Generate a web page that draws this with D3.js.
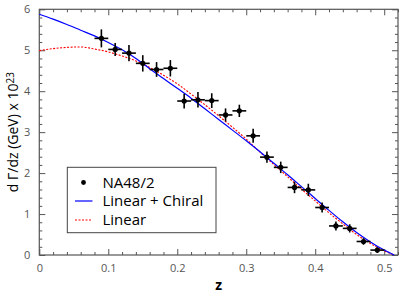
<!DOCTYPE html>
<html>
<head>
<meta charset="utf-8">
<script src="https://cdn.jsdelivr.net/npm/d3@7"></script>
<style>
  html, body { margin: 0; padding: 0; background: #fff; }
  svg { display: block; font-family: "Open Sans", "Noto Sans", sans-serif; }
</style>
</head>
<body>
<svg id="chart" width="409" height="301"></svg>
<script>
// ---- data ----
const dataZ   = [0.09, 0.11, 0.13, 0.15, 0.17, 0.19, 0.21, 0.23, 0.25, 0.27, 0.29, 0.31, 0.33, 0.35, 0.37, 0.39, 0.41, 0.43, 0.45, 0.47, 0.49];
const dataY   = [5.29, 5.02, 4.93, 4.68, 4.53, 4.56, 3.76, 3.79, 3.77, 3.42, 3.52, 2.91, 2.39, 2.14, 1.65, 1.59, 1.16, 0.71, 0.65, 0.33, 0.12];
const dataErr = [0.22, 0.16, 0.20, 0.20, 0.18, 0.20, 0.18, 0.19, 0.18, 0.16, 0.15, 0.17, 0.14, 0.14, 0.14, 0.15, 0.12, 0.11, 0.10, 0.08, 0.07];
const zErr = 0.01;

const curveZ      = [0, 0.02, 0.04, 0.06, 0.08, 0.10, 0.12, 0.14, 0.16, 0.18, 0.20, 0.22, 0.24, 0.26, 0.28, 0.30, 0.32, 0.34, 0.36, 0.38, 0.40, 0.42, 0.44, 0.46, 0.48, 0.50, 0.5145];
const chiralY     = [5.88, 5.76, 5.63, 5.49, 5.35, 5.19, 5.01, 4.80, 4.55, 4.31, 4.07, 3.83, 3.57, 3.31, 3.05, 2.79, 2.52, 2.24, 1.96, 1.67, 1.38, 1.09, 0.81, 0.55, 0.32, 0.12, 0];
const linearY     = [4.99, 5.04, 5.07, 5.08, 5.03, 4.96, 4.86, 4.74, 4.58, 4.39, 4.18, 3.93, 3.67, 3.40, 3.12, 2.83, 2.51, 2.21, 1.91, 1.61, 1.32, 1.03, 0.76, 0.50, 0.28, 0.10, 0];

const xMajor = [0, 0.1, 0.2, 0.3, 0.4, 0.5];
const yMajor = [0, 1, 2, 3, 4, 5, 6];
const legendLabels = ["NA48/2", "Linear + Chiral", "Linear"];

// ---- layout ----
const svg = d3.select("#chart");
const L = 39.3, R = 398, T = 9.3, B = 255;
const x = d3.scaleLinear().domain([0, 0.52]).range([L, R]);
const y = d3.scaleLinear().domain([0, 6]).range([B, T]);

const xMinor = d3.range(0, 0.521, 0.02).filter(v => !xMajor.some(m => Math.abs(m - v) < 1e-6));
const yMinor = d3.range(0, 6.001, 0.2).filter(v => !yMajor.some(m => Math.abs(m - v) < 1e-6));

const frameColor = "#555";

function styleAxis(g) {
  g.select(".domain").remove();
  g.selectAll(".tick line").attr("stroke", frameColor).attr("stroke-width", 1);
  g.selectAll(".tick text").attr("fill", "#555").style("font-size", "11px").style("font-family", "'Open Sans', sans-serif");
}

// bottom
svg.append("g").attr("transform", `translate(0,${B})`)
  .call(d3.axisBottom(x).tickValues(xMajor).tickSize(-6).tickPadding(9).tickFormat(d3.format("")))
  .call(styleAxis);
svg.append("g").attr("transform", `translate(0,${B})`)
  .call(d3.axisBottom(x).tickValues(xMinor).tickSize(-3).tickFormat(""))
  .call(styleAxis);
// top
svg.append("g").attr("transform", `translate(0,${T})`)
  .call(d3.axisTop(x).tickValues(xMajor).tickSize(-6).tickFormat(""))
  .call(styleAxis);
svg.append("g").attr("transform", `translate(0,${T})`)
  .call(d3.axisTop(x).tickValues(xMinor).tickSize(-3).tickFormat(""))
  .call(styleAxis);
// left
svg.append("g").attr("transform", `translate(${L},0)`)
  .call(d3.axisLeft(y).tickValues(yMajor).tickSize(-6).tickPadding(9).tickFormat(d3.format("d")))
  .call(styleAxis);
svg.append("g").attr("transform", `translate(${L},0)`)
  .call(d3.axisLeft(y).tickValues(yMinor).tickSize(-3).tickFormat(""))
  .call(styleAxis);
// right
svg.append("g").attr("transform", `translate(${R},0)`)
  .call(d3.axisRight(y).tickValues(yMajor).tickSize(-6).tickFormat(""))
  .call(styleAxis);
svg.append("g").attr("transform", `translate(${R},0)`)
  .call(d3.axisRight(y).tickValues(yMinor).tickSize(-3).tickFormat(""))
  .call(styleAxis);

// frame
svg.append("rect").attr("x", L).attr("y", T).attr("width", R - L).attr("height", B - T)
  .attr("fill", "none").attr("stroke", frameColor).attr("stroke-width", 1.2);

// curves
const line = d3.line().x(d => x(d[0])).y(d => y(d[1])).curve(d3.curveMonotoneX);
svg.append("path").datum(curveZ.map((z, i) => [z, linearY[i]]))
  .attr("d", line).attr("fill", "none").attr("stroke", "#ff0000").attr("stroke-width", 1.1)
  .attr("stroke-dasharray", "2,1.5");
svg.append("path").datum(curveZ.map((z, i) => [z, chiralY[i]]))
  .attr("d", line).attr("fill", "none").attr("stroke", "#0000ff").attr("stroke-width", 1.2);

// data points
const pts = svg.append("g");
dataZ.forEach((z, i) => {
  pts.append("line").attr("x1", x(z - zErr)).attr("x2", x(z + zErr))
    .attr("y1", y(dataY[i])).attr("y2", y(dataY[i])).attr("stroke", "#000").attr("stroke-width", 1.6);
  pts.append("line").attr("x1", x(z)).attr("x2", x(z))
    .attr("y1", y(dataY[i] - dataErr[i])).attr("y2", y(dataY[i] + dataErr[i])).attr("stroke", "#000").attr("stroke-width", 1.6);
  pts.append("circle").attr("cx", x(z)).attr("cy", y(dataY[i])).attr("r", 2.6).attr("fill", "#000");
});

// legend
const lg = svg.append("g");
lg.append("rect").attr("x", 67.3).attr("y", 167.3).attr("width", 148.7).attr("height", 65.4)
  .attr("fill", "#fff").attr("stroke", "#444").attr("stroke-width", 1);
const rowY = [182.5, 201, 220];
lg.append("circle").attr("cx", 83.5).attr("cy", rowY[0]).attr("r", 2.4).attr("fill", "#000");
lg.append("line").attr("x1", 75).attr("x2", 92.5).attr("y1", rowY[1]).attr("y2", rowY[1])
  .attr("stroke", "#0000ff").attr("stroke-width", 1.2);
lg.append("line").attr("x1", 75).attr("x2", 92.5).attr("y1", rowY[2]).attr("y2", rowY[2])
  .attr("stroke", "#ff0000").attr("stroke-width", 1.1).attr("stroke-dasharray", "2,1.5");
legendLabels.forEach((t, i) => {
  lg.append("text").attr("x", 102.5).attr("y", rowY[i]).attr("dy", "0.35em")
    .style("font-size", "15px").attr("fill", "#000").text(t);
});

// axis titles
svg.append("text").attr("x", x(0.26)).attr("y", 290).attr("text-anchor", "middle")
  .style("font-size", "14px").style("font-weight", "bold").text("z");

const yt = svg.append("text").attr("transform", `translate(18,${(T + B) / 2}) rotate(-90)`)
  .attr("text-anchor", "middle").style("font-size", "14px").attr("fill", "#000");
yt.append("tspan").text("d Γ/dz (GeV) x 10");
yt.append("tspan").attr("dy", "-0.45em").style("font-size", "10px").text("23");
</script>
</body>
</html>
